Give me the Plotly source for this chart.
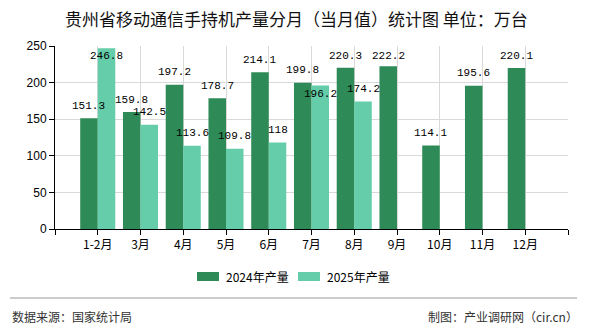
import plotly.graph_objects as go

categories = ["1-2月", "3月", "4月", "5月", "6月", "7月", "8月", "9月", "10月", "11月", "12月"]
series_names = ["2024年产量", "2025年产量"]
values_2024 = [151.3, 159.8, 197.2, 178.7, 214.1, 199.8, 220.3, 222.2, 114.1, 195.6, 220.1]
values_2025 = [246.8, 142.5, 113.6, 109.8, 118, 196.2, 174.2, None, None, None, None]
colors = ["#2E8B57", "#66CDAA"]
y_ticks = [0, 50, 100, 150, 200, 250]

W, H = 590, 330
L, R, T, B = 55, 22, 46, 101
PW, PH = W - L - R, H - T - B

def px(x):
    return (x - L) / PW

def py(y):
    return (H - B - y) / PH

xs = list(range(len(categories)))
fig = go.Figure()
for name, vals, col in zip(series_names, [values_2024, values_2025], colors):
    fig.add_trace(go.Bar(x=xs, y=vals, name=name, marker=dict(color=col, line=dict(width=0)),
                         showlegend=False, hoverinfo="skip"))

bargap = 0.18
off = (1 - bargap) / 4
ymax = 250
unit = ymax / PH
LAB = 12.5
annotations = []
first_centers = {}
for k, vals in enumerate([values_2024, values_2025]):
    sgn = -1 if k == 0 else 1
    for i, v in enumerate(vals):
        if v is None:
            continue
        center_px = v / unit + LAB
        if center_px > PH - 10:
            yy, ys = ymax, -10
            center_px = PH - 10
        else:
            yy, ys = v, LAB
        if k == 1 and i in first_centers and abs(first_centers[i] - center_px) < 11:
            yy, ys = v, -9
        if k == 0:
            first_centers[i] = center_px
        annotations.append(dict(x=i + sgn * off, y=yy, xref="x", yref="y", text=f"{v:g}",
                                showarrow=False, yshift=ys, yanchor="middle",
                                font=dict(family="Liberation Mono", size=11, color="#000")))

# title
annotations.append(dict(x=px(296), y=py(18), xref="paper", yref="paper",
                        text="贵州省移动通信手持机产量分月（当月值）统计图 单位：万台",
                        showarrow=False, xanchor="center", yanchor="middle",
                        font=dict(family="Noto Sans CJK SC", size=17, color="#111")))
# legend
shapes = []
leg_x = [197, 298]
for name, col, lx in zip(series_names, colors, leg_x):
    shapes.append(dict(type="rect", xref="paper", yref="paper", x0=px(lx), x1=px(lx + 22),
                       y0=py(281), y1=py(272), fillcolor=col, line=dict(width=0)))
    annotations.append(dict(x=px(lx + 27), y=py(276.5), xref="paper", yref="paper", text=name,
                            showarrow=False, xanchor="left", yanchor="middle",
                            font=dict(family="Noto Sans CJK SC", size=12, color="#000")))
# footer
shapes.append(dict(type="line", xref="paper", yref="paper", x0=px(10), x1=px(577),
                   y0=py(298), y1=py(298), line=dict(color="#999", width=1)))
annotations.append(dict(x=px(10), y=py(316), xref="paper", yref="paper", text="数据来源：国家统计局",
                        showarrow=False, xanchor="left", yanchor="middle",
                        font=dict(family="Noto Sans CJK SC", size=12, color="#333")))
annotations.append(dict(x=px(580), y=py(316), xref="paper", yref="paper", text="制图：产业调研网（cir.cn）",
                        showarrow=False, xanchor="right", yanchor="middle",
                        font=dict(family="Noto Sans CJK SC", size=12, color="#333")))

tickvals = [-1] + xs + [len(xs)]
ticktext = [""] + categories + [""]
fig.update_layout(
    width=W, height=H, margin=dict(l=L, r=R, t=T, b=B),
    paper_bgcolor="white", plot_bgcolor="white",
    barmode="group", bargap=bargap, bargroupgap=0,
    annotations=annotations, shapes=shapes,
    xaxis=dict(range=[-1, len(xs)], tickvals=tickvals, ticktext=ticktext,
               showgrid=True, gridcolor="#d9d9d9", gridwidth=1, zeroline=False,
               showline=True, linecolor="#000", linewidth=1,
               ticks="outside", ticklen=5, tickcolor="#000",
               tickfont=dict(family="Noto Sans CJK SC", size=12, color="#000")),
    yaxis=dict(range=[0, ymax], tickvals=y_ticks, showgrid=True, gridcolor="#d9d9d9", gridwidth=1,
               zeroline=False, showline=True, linecolor="#000", linewidth=1,
               ticks="outside", ticklen=5, tickcolor="#000",
               tickfont=dict(family="Liberation Sans", size=12, color="#000")),
)
fig.write_html("out.html")
